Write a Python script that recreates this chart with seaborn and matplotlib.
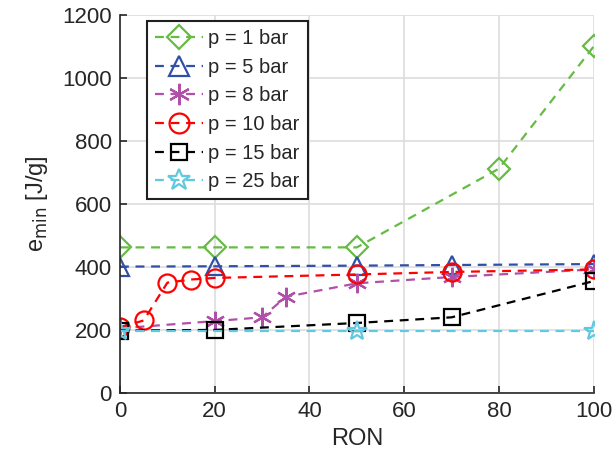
import matplotlib
matplotlib.use("Agg")
import matplotlib.pyplot as plt
import seaborn as sns
import pandas as pd

sns.set_theme(style="white")
plt.rcParams['font.family'] = ['Liberation Sans', 'DejaVu Sans']

x_p1 = [0, 20, 50, 80, 100]
y_p1 = [462, 462, 462, 712, 1100]
x_p5 = [0, 20, 50, 70, 100]
y_p5 = [401, 402, 404, 406, 409]
x_p8 = [0, 20, 30, 35, 50, 70, 100]
y_p8 = [205, 228, 240, 305, 348, 368, 392]
x_p10 = [0, 5, 10, 15, 20, 50, 70, 100]
y_p10 = [208, 230, 350, 360, 365, 376, 384, 392]
x_p15 = [0, 20, 50, 70, 100]
y_p15 = [198, 200, 222, 240, 355]
x_p25 = [0, 50, 100]
y_p25 = [195, 195, 195]

labels = ["p = 1 bar", "p = 5 bar", "p = 8 bar", "p = 10 bar", "p = 15 bar", "p = 25 bar"]
colors = ["#66BB44", "#3050A8", "#B050A8", "#FF0000", "#000000", "#60C8E0"]
markers = ["D", "^", "*", "o", "s", "*"]

series = [(x_p1, y_p1), (x_p5, y_p5), (x_p8, y_p8), (x_p10, y_p10), (x_p15, y_p15), (x_p25, y_p25)]

fig = plt.figure(figsize=(6.14, 4.65), dpi=100)
ax = fig.add_axes([0.1954, 0.155, 0.7716, 0.813])

sizes = [11, 13, 14, 13, 11, 15]
for (xs, ys), lab, c, m, s in zip(series, labels, colors, markers, sizes):
    df = pd.DataFrame({"RON": xs, "e": ys})
    kw = dict(markerfacecolor='none', markeredgecolor=c, markeredgewidth=1.6)
    if m == "*" and lab == "p = 8 bar":
        m = (6, 2, 0)
        kw = dict(markeredgecolor=c, markeredgewidth=1.6)
    sns.lineplot(data=df, x="RON", y="e", ax=ax, color=c, linestyle=(0, (4, 3)),
                 linewidth=1.6, marker=m, markersize=s, label=lab, **kw)

ax.set_xlim(0, 100)
ax.set_ylim(0, 1200)
ax.set_xticks([0, 20, 40, 60, 80, 100])
ax.set_yticks([0, 200, 400, 600, 800, 1000, 1200])
ax.grid(True, color="#DDDDDD", linewidth=1.2)
ax.set_axisbelow(True)
for sp in ["top", "right"]:
    ax.spines[sp].set_visible(False)
for sp in ["left", "bottom"]:
    ax.spines[sp].set_color("#262626")
    ax.spines[sp].set_linewidth(1.2)
ax.tick_params(axis="both", direction="in", length=5, width=1.2, colors="#262626",
               labelsize=16, labelcolor="#262626", pad=6, left=True, bottom=True)
ax.set_xlabel("RON", fontsize=17, color="#262626", labelpad=4)
ax.set_ylabel(r"e$_{\mathrm{min}}$ [J/g]", fontsize=17, color="#262626", labelpad=9)

leg = ax.legend(loc="upper left", bbox_to_anchor=(0.057, 0.984), fontsize=14.5, frameon=True,
                fancybox=False, edgecolor="#202020", framealpha=1, handlelength=2.4,
                handletextpad=0.25, borderpad=0.4, labelspacing=0.48, borderaxespad=0,
                markerscale=1.1)
leg.get_frame().set_linewidth(1.5)

fig.savefig("out.png", dpi=100)
